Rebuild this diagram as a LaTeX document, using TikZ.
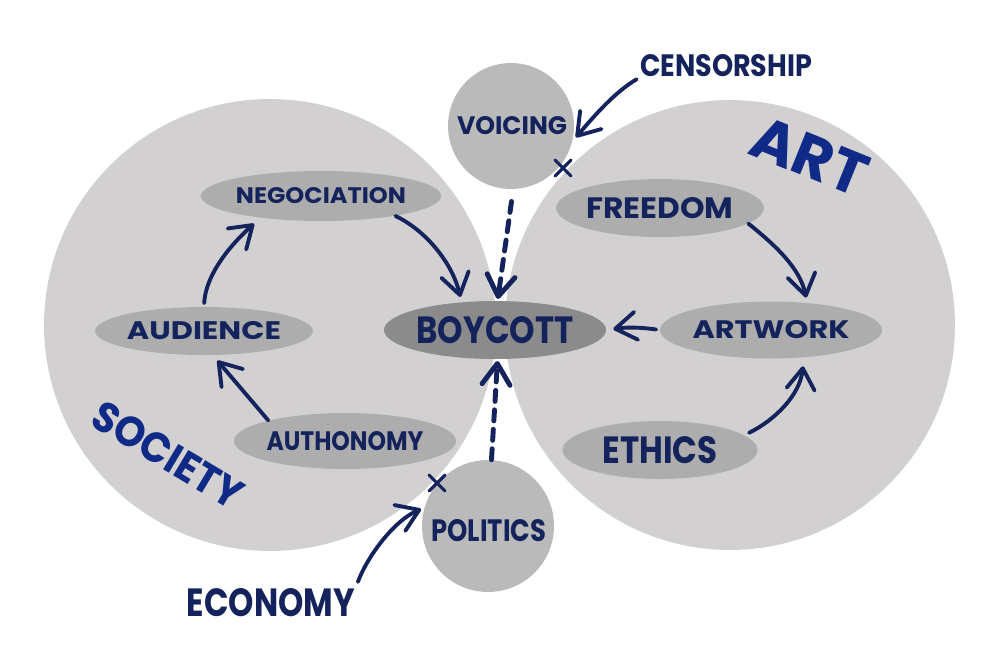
\documentclass[tikz,border=0pt]{standalone}
\usepackage{fontspec}
\setmainfont{Poppins}
\usetikzlibrary{shapes.geometric,shapes.misc,arrows.meta}
\definecolor{bigc}{HTML}{D3D0D1}
\definecolor{smallc}{HTML}{BABABA}
\definecolor{ellc}{HTML}{ADADAD}
\definecolor{boyc}{HTML}{8B8B8B}
\definecolor{ink}{HTML}{14235C}
\definecolor{blueink}{HTML}{0F2A87}
\newlength\pxu
\setlength\pxu{0.02cm}
\newcommand\fitwh[3]{\resizebox{#1\pxu}{#2\pxu}{\bfseries #3}}
\tikzset{
  region/.style={circle, fill=bigc, inner sep=0pt},
  minor/.style={circle, fill=smallc, inner sep=0pt, text=ink},
  concept/.style={ellipse, fill=ellc, inner sep=0pt, text=ink},
  label/.style={inner sep=0pt, text=ink},
  title/.style={inner sep=0pt, text=blueink},
  link/.style={draw=ink, line width=2.2pt, line cap=round, line join=round,
    -{Straight Barb[length=4.2mm,width=5.6mm,line cap=round,line join=round]}},
  dlink/.style={link, line width=2.8pt, dash pattern=on 0.22cm off 0.17cm},
  xmark/.style={draw=ink, cross out, line width=1.8pt, line cap=round, minimum size=0.26cm, inner sep=0pt}
}
\begin{document}
\begin{tikzpicture}[x=0.02cm, y=-0.02cm]
\useasboundingbox (0,0) rectangle (1000,667);
% big regions
\node[region, minimum size=9.04cm] (soc) at (270,325) {};
\node[region, minimum size=9.0cm] (artc) at (730,325) {};
% small circles
\node[minor, minimum size=2.52cm] (voi) at (511,126) {};
\node[minor, minimum size=2.64cm] (pol) at (488,526) {};
\node[label] (voit) at (512,126) {\fitwh{110}{18}{VOICING}};
\node[label] (polt) at (489,531) {\fitwh{115}{22}{POLITICS}};
% concept ellipses
\node[concept, minimum width=4.0cm, minimum height=1.0cm] (neg) at (321,196) {\fitwh{170}{16}{NEGOCIATION}};
\node[concept, minimum width=3.84cm, minimum height=0.96cm] (aud) at (204,331) {\fitwh{154}{18}{AUDIENCE}};
\node[concept, minimum width=3.84cm, minimum height=1.12cm] (aut) at (345,441) {\fitwh{157}{19}{AUTHONOMY}};
\node[concept, fill=boyc, minimum width=3.92cm, minimum height=1.16cm] (boy) at (495,330) {\fitwh{157}{27}{BOYCOTT}};
\node[concept, minimum width=3.88cm, minimum height=1.16cm] (fre) at (660,208) {\fitwh{147}{21}{FREEDOM}};
\node[concept, minimum width=3.86cm, minimum height=1.14cm] (awk) at (771,330) {\fitwh{157}{18}{ARTWORK}};
\node[concept, minimum width=3.9cm, minimum height=1.16cm] (eth) at (660,450) {\fitwh{115}{27}{ETHICS}};
% outer labels
\node[label] (cen) at (726,66) {\fitwh{172}{22}{CENSORSHIP}};
\node[label] (eco) at (271,603) {\fitwh{168}{28}{ECONOMY}};
\node[title, rotate=-22] (artt) at (810,156) {\fitwh{120}{42}{ART}};
\node[title, rotate=-31] (soct) at (168,455) {\fitwh{168}{30}{SOCIETY}};
% crosses
\node[xmark] (x1) at (563,168) {};
\node[xmark] (x2) at (437,483) {};
% connectors
\draw[link, shorten >=3pt] (neg.-15) .. controls (425,230) and (452,262) .. (boy.140);
\draw[link, shorten <=2pt, shorten >=5pt] (aud.north) .. controls (206,270) and (238,238) .. (neg.200);
\draw[link, shorten >=4pt] (aut.165) -- (aud.-70);
\draw[link, shorten >=3pt] (fre.-10) .. controls (775,245) and (800,268) .. (awk.37);
\draw[link, shorten <=3pt, shorten >=5pt] (eth.10) .. controls (775,420) and (800,395) .. (awk.-40);
\draw[link, shorten <=2pt, shorten >=4pt] (awk.west) to[bend right=8] (boy.east);
\draw[dlink, shorten <=7pt, shorten >=1pt] (voi.-88) -- (boy.85);
\draw[dlink, shorten >=1pt] (pol.87) -- (boy.-85);
\draw[link, shorten <=2pt, shorten >=3pt] (cen.south west) .. controls (615,92) and (595,115) .. (voi.-14);
\draw[link, shorten <=4pt, shorten >=2pt] (eco.north east) .. controls (368,555) and (395,520) .. (pol.164);
\end{tikzpicture}
\end{document}
